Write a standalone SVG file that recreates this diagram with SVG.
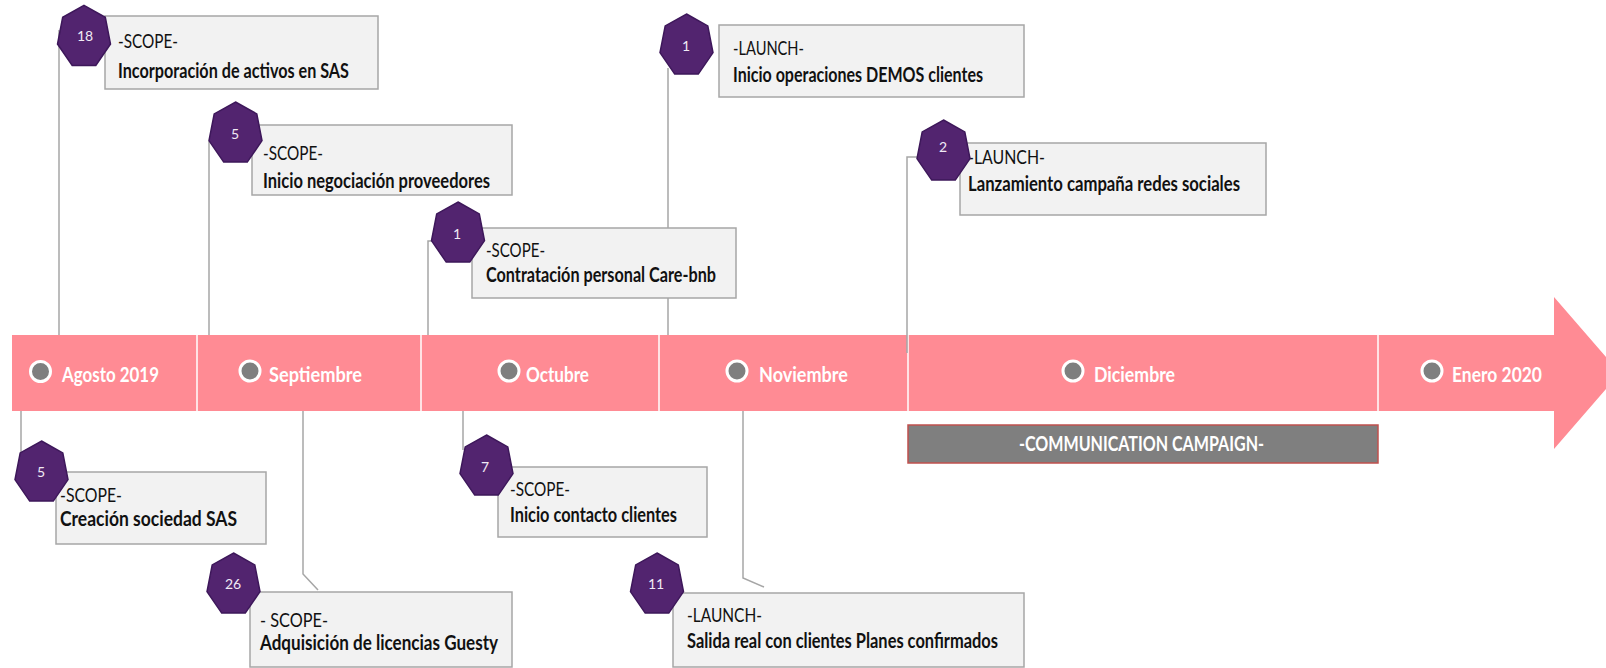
<svg xmlns="http://www.w3.org/2000/svg" width="1606" height="668" viewBox="0 0 1606 668">
<defs>
<style>
.box{fill:#f2f2f2;stroke:#a6a6a6;stroke-width:1.5}
.hept{fill:#52246f;stroke:#3d175a;stroke-width:1.5}
.t{font-family:Lato,"Liberation Sans",sans-serif;font-size:20px;fill:#111}
.b{font-weight:bold}
.num{font-family:Lato,"Liberation Sans",sans-serif;font-size:14px;fill:#f0eaf5;text-anchor:middle}
.mon{font-family:Lato,"Liberation Sans",sans-serif;font-size:20px;font-weight:bold;fill:#ffffff}
.dot{fill:#7f7f7f;stroke:#ffffff;stroke-width:3}
.conn{fill:none;stroke:#a6a6a6;stroke-width:1.5}
.div{stroke:#ffffff;stroke-width:1.5}
</style>
<polygon id="hept" points="0,-31.6 21.3,-19.7 26.5,7 11.8,28.5 -11.8,28.5 -26.5,7 -21.3,-19.7"/>
</defs>
<rect width="1606" height="668" fill="#ffffff"/>

<g id="timeline">
<polygon points="12,335 1554,335 1554,297 1620,373 1554,449 1554,411 12,411" fill="#ff8b94"/>
<line class="div" x1="197" y1="335" x2="197" y2="411"/>
<line class="div" x1="421" y1="335" x2="421" y2="411"/>
<line class="div" x1="659" y1="335" x2="659" y2="411"/>
<line class="div" x1="908" y1="335" x2="908" y2="411"/>
<line class="div" x1="1378" y1="335" x2="1378" y2="411"/>
</g>

<g id="months">
<g id="m-agosto"><circle class="dot" cx="40.5" cy="371.5" r="10"/><text class="mon" x="62" y="382" textLength="97" lengthAdjust="spacingAndGlyphs">Agosto 2019</text></g>
<g id="m-septiembre"><circle class="dot" cx="250" cy="371" r="10"/><text class="mon" x="269" y="382" textLength="93" lengthAdjust="spacingAndGlyphs">Septiembre</text></g>
<g id="m-octubre"><circle class="dot" cx="509" cy="371" r="10"/><text class="mon" x="526" y="382" textLength="63" lengthAdjust="spacingAndGlyphs">Octubre</text></g>
<g id="m-noviembre"><circle class="dot" cx="737" cy="371" r="10"/><text class="mon" x="759" y="382" textLength="89" lengthAdjust="spacingAndGlyphs">Noviembre</text></g>
<g id="m-diciembre"><circle class="dot" cx="1073" cy="371" r="10"/><text class="mon" x="1094" y="382" textLength="81" lengthAdjust="spacingAndGlyphs">Diciembre</text></g>
<g id="m-enero"><circle class="dot" cx="1432" cy="371" r="10"/><text class="mon" x="1452" y="382" textLength="90" lengthAdjust="spacingAndGlyphs">Enero 2020</text></g>
</g>

<g id="campaign">
<rect x="908" y="425" width="470" height="38" fill="#7f7f7f" stroke="#c0504d" stroke-width="1.5"/>
<text class="mon" x="1019" y="451" textLength="245" lengthAdjust="spacingAndGlyphs">-COMMUNICATION CAMPAIGN-</text>
</g>

<g id="connectors">
<polyline class="conn" points="59,335 59,30"/>
<polyline class="conn" points="209,335 209,141"/>
<polyline class="conn" points="428,335 428,241 436,241"/>
<polyline class="conn" points="668,335 668,68"/>
<polyline class="conn" points="907,353 907,157 920,157"/>
<polyline class="conn" points="21,411 21,455"/>
<polyline class="conn" points="303,411 303,574 318,590"/>
<polyline class="conn" points="463,411 463,450"/>
<polyline class="conn" points="743,411 743,578 764,587"/>
</g>

<g id="n-incorporacion">
<rect class="box" x="105" y="16" width="273" height="73"/>
<text class="t" x="118" y="48" textLength="60" lengthAdjust="spacingAndGlyphs">-SCOPE-</text>
<text class="t b" x="118" y="78" textLength="231" lengthAdjust="spacingAndGlyphs">Incorporación de activos en SAS</text>
<use href="#hept" class="hept" x="84" y="37"/>
<text class="num" x="85" y="41">18</text>
</g>

<g id="n-negociacion">
<rect class="box" x="252" y="125" width="260" height="70"/>
<text class="t" x="263" y="160" textLength="60" lengthAdjust="spacingAndGlyphs">-SCOPE-</text>
<text class="t b" x="263" y="188" textLength="227" lengthAdjust="spacingAndGlyphs">Inicio negociación proveedores</text>
<use href="#hept" class="hept" x="235.5" y="133.6"/>
<text class="num" x="235" y="139">5</text>
</g>

<g id="n-contratacion">
<rect class="box" x="472" y="228" width="264" height="70"/>
<text class="t" x="486" y="257" textLength="59" lengthAdjust="spacingAndGlyphs">-SCOPE-</text>
<text class="t b" x="486" y="282" textLength="230" lengthAdjust="spacingAndGlyphs">Contratación personal Care-bnb</text>
<use href="#hept" class="hept" x="458" y="233.6"/>
<text class="num" x="457" y="239">1</text>
</g>

<g id="n-demos">
<rect class="box" x="719" y="25" width="305" height="72"/>
<text class="t" x="733" y="55" textLength="71" lengthAdjust="spacingAndGlyphs">-LAUNCH-</text>
<text class="t b" x="733" y="82" textLength="250" lengthAdjust="spacingAndGlyphs">Inicio operaciones DEMOS clientes</text>
<use href="#hept" class="hept" x="686.5" y="45.6"/>
<text class="num" x="686" y="51">1</text>
</g>

<g id="n-redes">
<rect class="box" x="960" y="143" width="306" height="72"/>
<text class="t" x="968" y="164" textLength="77" lengthAdjust="spacingAndGlyphs">-LAUNCH-</text>
<text class="t b" x="968" y="191" textLength="272" lengthAdjust="spacingAndGlyphs">Lanzamiento campaña redes sociales</text>
<use href="#hept" class="hept" x="943.5" y="151.6"/>
<text class="num" x="943" y="152">2</text>
</g>

<g id="n-creacion">
<rect class="box" x="56" y="472" width="210" height="72"/>
<text class="t" x="60" y="502" textLength="62" lengthAdjust="spacingAndGlyphs">-SCOPE-</text>
<text class="t b" x="60" y="526" textLength="177" lengthAdjust="spacingAndGlyphs">Creación sociedad SAS</text>
<use href="#hept" class="hept" x="41.5" y="472.6"/>
<text class="num" x="41" y="477">5</text>
</g>

<g id="n-guesty">
<rect class="box" x="250" y="592" width="262" height="75"/>
<text class="t" x="260" y="627" textLength="68" lengthAdjust="spacingAndGlyphs">- SCOPE-</text>
<text class="t b" x="260" y="650" textLength="238" lengthAdjust="spacingAndGlyphs">Adquisición de licencias Guesty</text>
<use href="#hept" class="hept" x="233.5" y="584.6"/>
<text class="num" x="233" y="589">26</text>
</g>

<g id="n-contacto">
<rect class="box" x="498" y="467" width="209" height="70"/>
<text class="t" x="510" y="496" textLength="60" lengthAdjust="spacingAndGlyphs">-SCOPE-</text>
<text class="t b" x="510" y="522" textLength="167" lengthAdjust="spacingAndGlyphs">Inicio contacto clientes</text>
<use href="#hept" class="hept" x="486.5" y="466.6"/>
<text class="num" x="485" y="471.5">7</text>
</g>

<g id="n-salida">
<rect class="box" x="673" y="593" width="351" height="74"/>
<text class="t" x="687" y="622" textLength="75" lengthAdjust="spacingAndGlyphs">-LAUNCH-</text>
<text class="t b" x="687" y="648" textLength="311" lengthAdjust="spacingAndGlyphs">Salida real con clientes Planes confirmados</text>
<use href="#hept" class="hept" x="657" y="584.6"/>
<text class="num" x="656" y="589">11</text>
</g>
</svg>
